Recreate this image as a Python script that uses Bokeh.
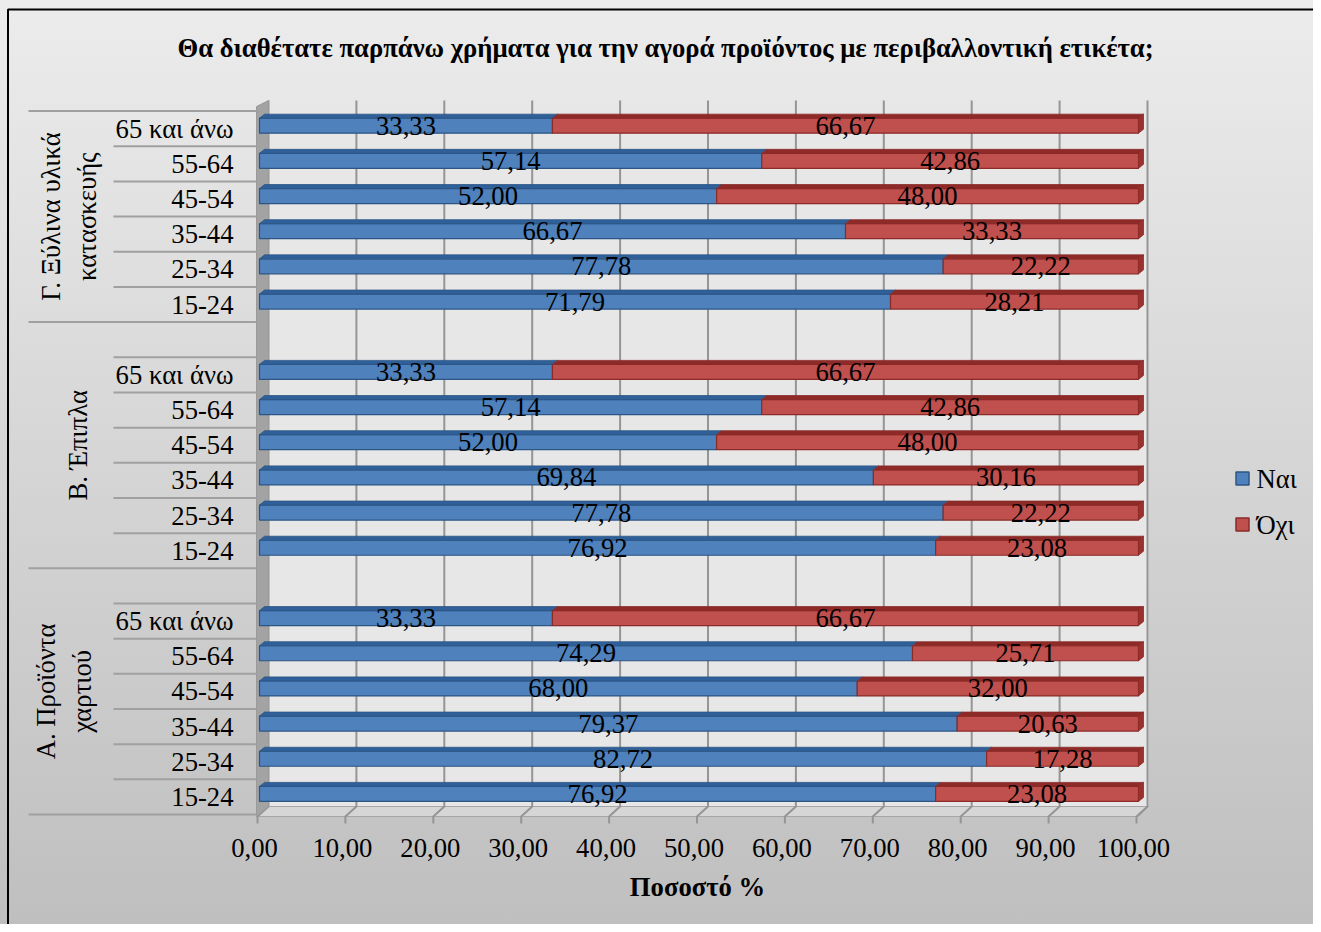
from math import pi
from bokeh.plotting import figure
from bokeh.models import Range1d, ColumnDataSource
from bokeh.embed import file_html
from bokeh.resources import INLINE
from bokeh.core.properties import value

# ---------------- data ----------------
title_text = "Θα διαθέτατε παρπάνω χρήματα για την αγορά προϊόντος με περιβαλλοντική ετικέτα;"
x_axis_title = "Ποσοστό %"
series_names = ["Ναι", "Όχι"]
age_groups = ["15-24", "25-34", "35-44", "45-54", "55-64", "65 και άνω"]
group_names = ["Α. Προϊόντα\nχαρτιού", "Β. Έπιπλα", "Γ. Ξύλινα υλικά\nκατασκευής"]

nai_A = [76.92, 82.72, 79.37, 68.00, 74.29, 33.33]
oxi_A = [23.08, 17.28, 20.63, 32.00, 25.71, 66.67]
nai_B = [76.92, 77.78, 69.84, 52.00, 57.14, 33.33]
oxi_B = [23.08, 22.22, 30.16, 48.00, 42.86, 66.67]
nai_G = [71.79, 77.78, 66.67, 52.00, 57.14, 33.33]
oxi_G = [28.21, 22.22, 33.33, 48.00, 42.86, 66.67]

x_ticks = [0, 10, 20, 30, 40, 50, 60, 70, 80, 90, 100]
x_tick_labels = ["0,00", "10,00", "20,00", "30,00", "40,00", "50,00",
                 "60,00", "70,00", "80,00", "90,00", "100,00"]

# ---------------- layout helpers (screen px -> data) ----------------
W, H = 1313, 924
X0, SX = 259.0, 8.79     # screen x of value 0, px per unit
Y0, SY = 814.0, 35.17    # screen y of slot 0, px per slot
PX, PY = 1.0 / SX, 1.0 / SY


def vx(px):
    return (px - X0) / SX


def vy(py):
    return (Y0 - py) / SY


FONT = value("Liberation Serif")
FS = "26.67px"
BLUE, BLUE_TOP, BLUE_EDGE = "#4F81BD", "#30609A", "#2C5584"
RED, RED_TOP, RED_END, RED_EDGE = "#C0504D", "#8E2B28", "#9B302D", "#8A2B28"

p = figure(width=W, height=H, x_range=Range1d(vx(0), vx(W)),
           y_range=Range1d(vy(H), vy(0)), output_backend="svg",
           toolbar_location=None, x_axis_location=None, y_axis_location=None,
           min_border=0)
p.grid.visible = False
p.outline_line_color = None
p.background_fill_alpha = 0
p.border_fill_alpha = 0
p.styles = {"background": "linear-gradient(180deg, #ECECEC 0%, #BFBFBF 100%)"}

# chart border (left/top)
p.line([vx(7.5), vx(7.5), vx(1340)], [vy(960), vy(9), vy(9)], line_color="black", line_width=2)

DXB = 9 * PX      # depth offset x
# back wall
p.patch([vx(268), vx(1148), vx(1148), vx(268)], [vy(100), vy(100), vy(806), vy(806)],
        fill_color="#E7E7E7", line_color=None)
# floor
p.patch([vx(256), vx(268), vx(1148), vx(1138)], [vy(816), vy(806), vy(806), vy(816)],
        fill_color="#D6D6D6", line_color="#A5A5A5", line_width=1)
# gridlines + floor slants + ticks
gx, gy = [], []
for v in x_ticks:
    xb = v + DXB
    xf = v - 2 * PX
    gx.append([xb, xb, xf, xf])
    gy.append([vy(100), vy(806), vy(816), vy(823)])
p.multi_line(gx, gy, line_color="#959595", line_width=2)
# left side wall
p.patch([vx(256), vx(268), vx(268), vx(256)], [vy(106), vy(100), vy(806), vy(816)],
        fill_color="#A3A3A3", line_color="#9A9A9A", line_width=1)

# ---------------- bars ----------------
group_offsets = [0, 7, 14]
nai_all = [nai_A, nai_B, nai_G]
oxi_all = [oxi_A, oxi_B, oxi_G]
yc, nai, oxi = [], [], []
for off, ns, os_ in zip(group_offsets, nai_all, oxi_all):
    for i in range(len(age_groups)):
        yc.append(off + i + 0.5)
        nai.append(ns[i])
        oxi.append(os_[i])
tot = [a + b for a, b in zip(nai, oxi)]
yf = [y + 3 * PY for y in yc]
ytop = [y + 10.5 * PY for y in yc]
ybot = [y - 4.5 * PY for y in yc]
DT, DY = 5 * PX, 4 * PY

src = ColumnDataSource(dict(yf=yf, nai=nai, tot=tot))
p.hbar(y="yf", left=0, right="nai", height=15 * PY, source=src,
       fill_color=BLUE, line_color=BLUE_EDGE, line_width=1.2)
p.hbar(y="yf", left="nai", right="tot", height=15 * PY, source=src,
       fill_color=RED, line_color=RED_EDGE, line_width=1.2)

p.patches([[0, n, n + DT, DT] for n in nai],
          [[t, t, t + DY, t + DY] for t in ytop],
          fill_color=BLUE_TOP, line_color=BLUE_EDGE, line_width=0.8)
p.patches([[n, T, T + DT, n + DT] for n, T in zip(nai, tot)],
          [[t, t, t + DY, t + DY] for t in ytop],
          fill_color=RED_TOP, line_color=RED_EDGE, line_width=0.8)
p.patches([[T, T + DT, T + DT, T] for T in tot],
          [[b, b + DY, t + DY, t] for b, t in zip(ybot, ytop)],
          fill_color=RED_END, line_color=RED_EDGE, line_width=0.8)


# data labels
def fmt(v):
    return f"{v:.2f}".replace(".", ",")


lx = [n / 2 for n in nai] + [n + o / 2 for n, o in zip(nai, oxi)]
ly = [y + 3 * PY for y in yc] * 2
lt = [fmt(n) for n in nai] + [fmt(o) for o in oxi]
p.text(lx, ly, text=lt, text_align="center", text_baseline="middle",
       text_font=FONT, text_font_size=FS, text_color="black")

# ---------------- category table ----------------
full_b = [0, 7, 14, 20]
part_b = [b for b in range(21) if b not in full_b]
p.segment(x0=[vx(28)] * len(full_b), y0=full_b, x1=[vx(256)] * len(full_b), y1=full_b,
          line_color="#A0A0A0", line_width=2)
p.segment(x0=[vx(113)] * len(part_b), y0=part_b, x1=[vx(256)] * len(part_b), y1=part_b,
          line_color="#A0A0A0", line_width=2)

p.text([vx(233)] * len(yc), [y + 0 * PY for y in yc], text=age_groups * 3,
       text_align="right", text_baseline="middle", text_font=FONT,
       text_font_size=FS, text_color="black")

group_centers = [3.5, 10.5, 17.0]
group_label_x = [vx(63), vx(77), vx(68)]
p.text(group_label_x, group_centers, text=group_names, angle=pi / 2,
       text_align="center", text_baseline="middle", text_font=FONT,
       text_font_size=FS, text_color="black", text_line_height=1.2)

# ---------------- x tick labels & axis title ----------------
p.text([v - 5 * PX for v in x_ticks], [vy(847)] * len(x_ticks), text=x_tick_labels,
       text_align="center", text_baseline="middle", text_font=FONT,
       text_font_size=FS, text_color="black")
p.text([vx(697)], [vy(886)], text=[x_axis_title], text_align="center", text_baseline="middle",
       text_font=FONT, text_font_size=FS, text_font_style="bold", text_color="black")

# ---------------- title ----------------
p.text([vx(665)], [vy(47)], text=[title_text], text_align="center", text_baseline="middle",
       text_font=FONT, text_font_size=FS, text_font_style="bold", text_color="black")

# ---------------- legend ----------------
p.rect([vx(1242)] * 2, [vy(478), vy(524)], width=13 * PX, height=13 * PY,
       fill_color=[BLUE, RED], line_color=[BLUE_EDGE, RED_EDGE], line_width=1.5)
p.text([vx(1256)] * 2, [vy(478), vy(524)], text=series_names, text_align="left",
       text_baseline="middle", text_font=FONT, text_font_size=FS, text_color="black")

open("out.html", "w").write(file_html(p, INLINE))
